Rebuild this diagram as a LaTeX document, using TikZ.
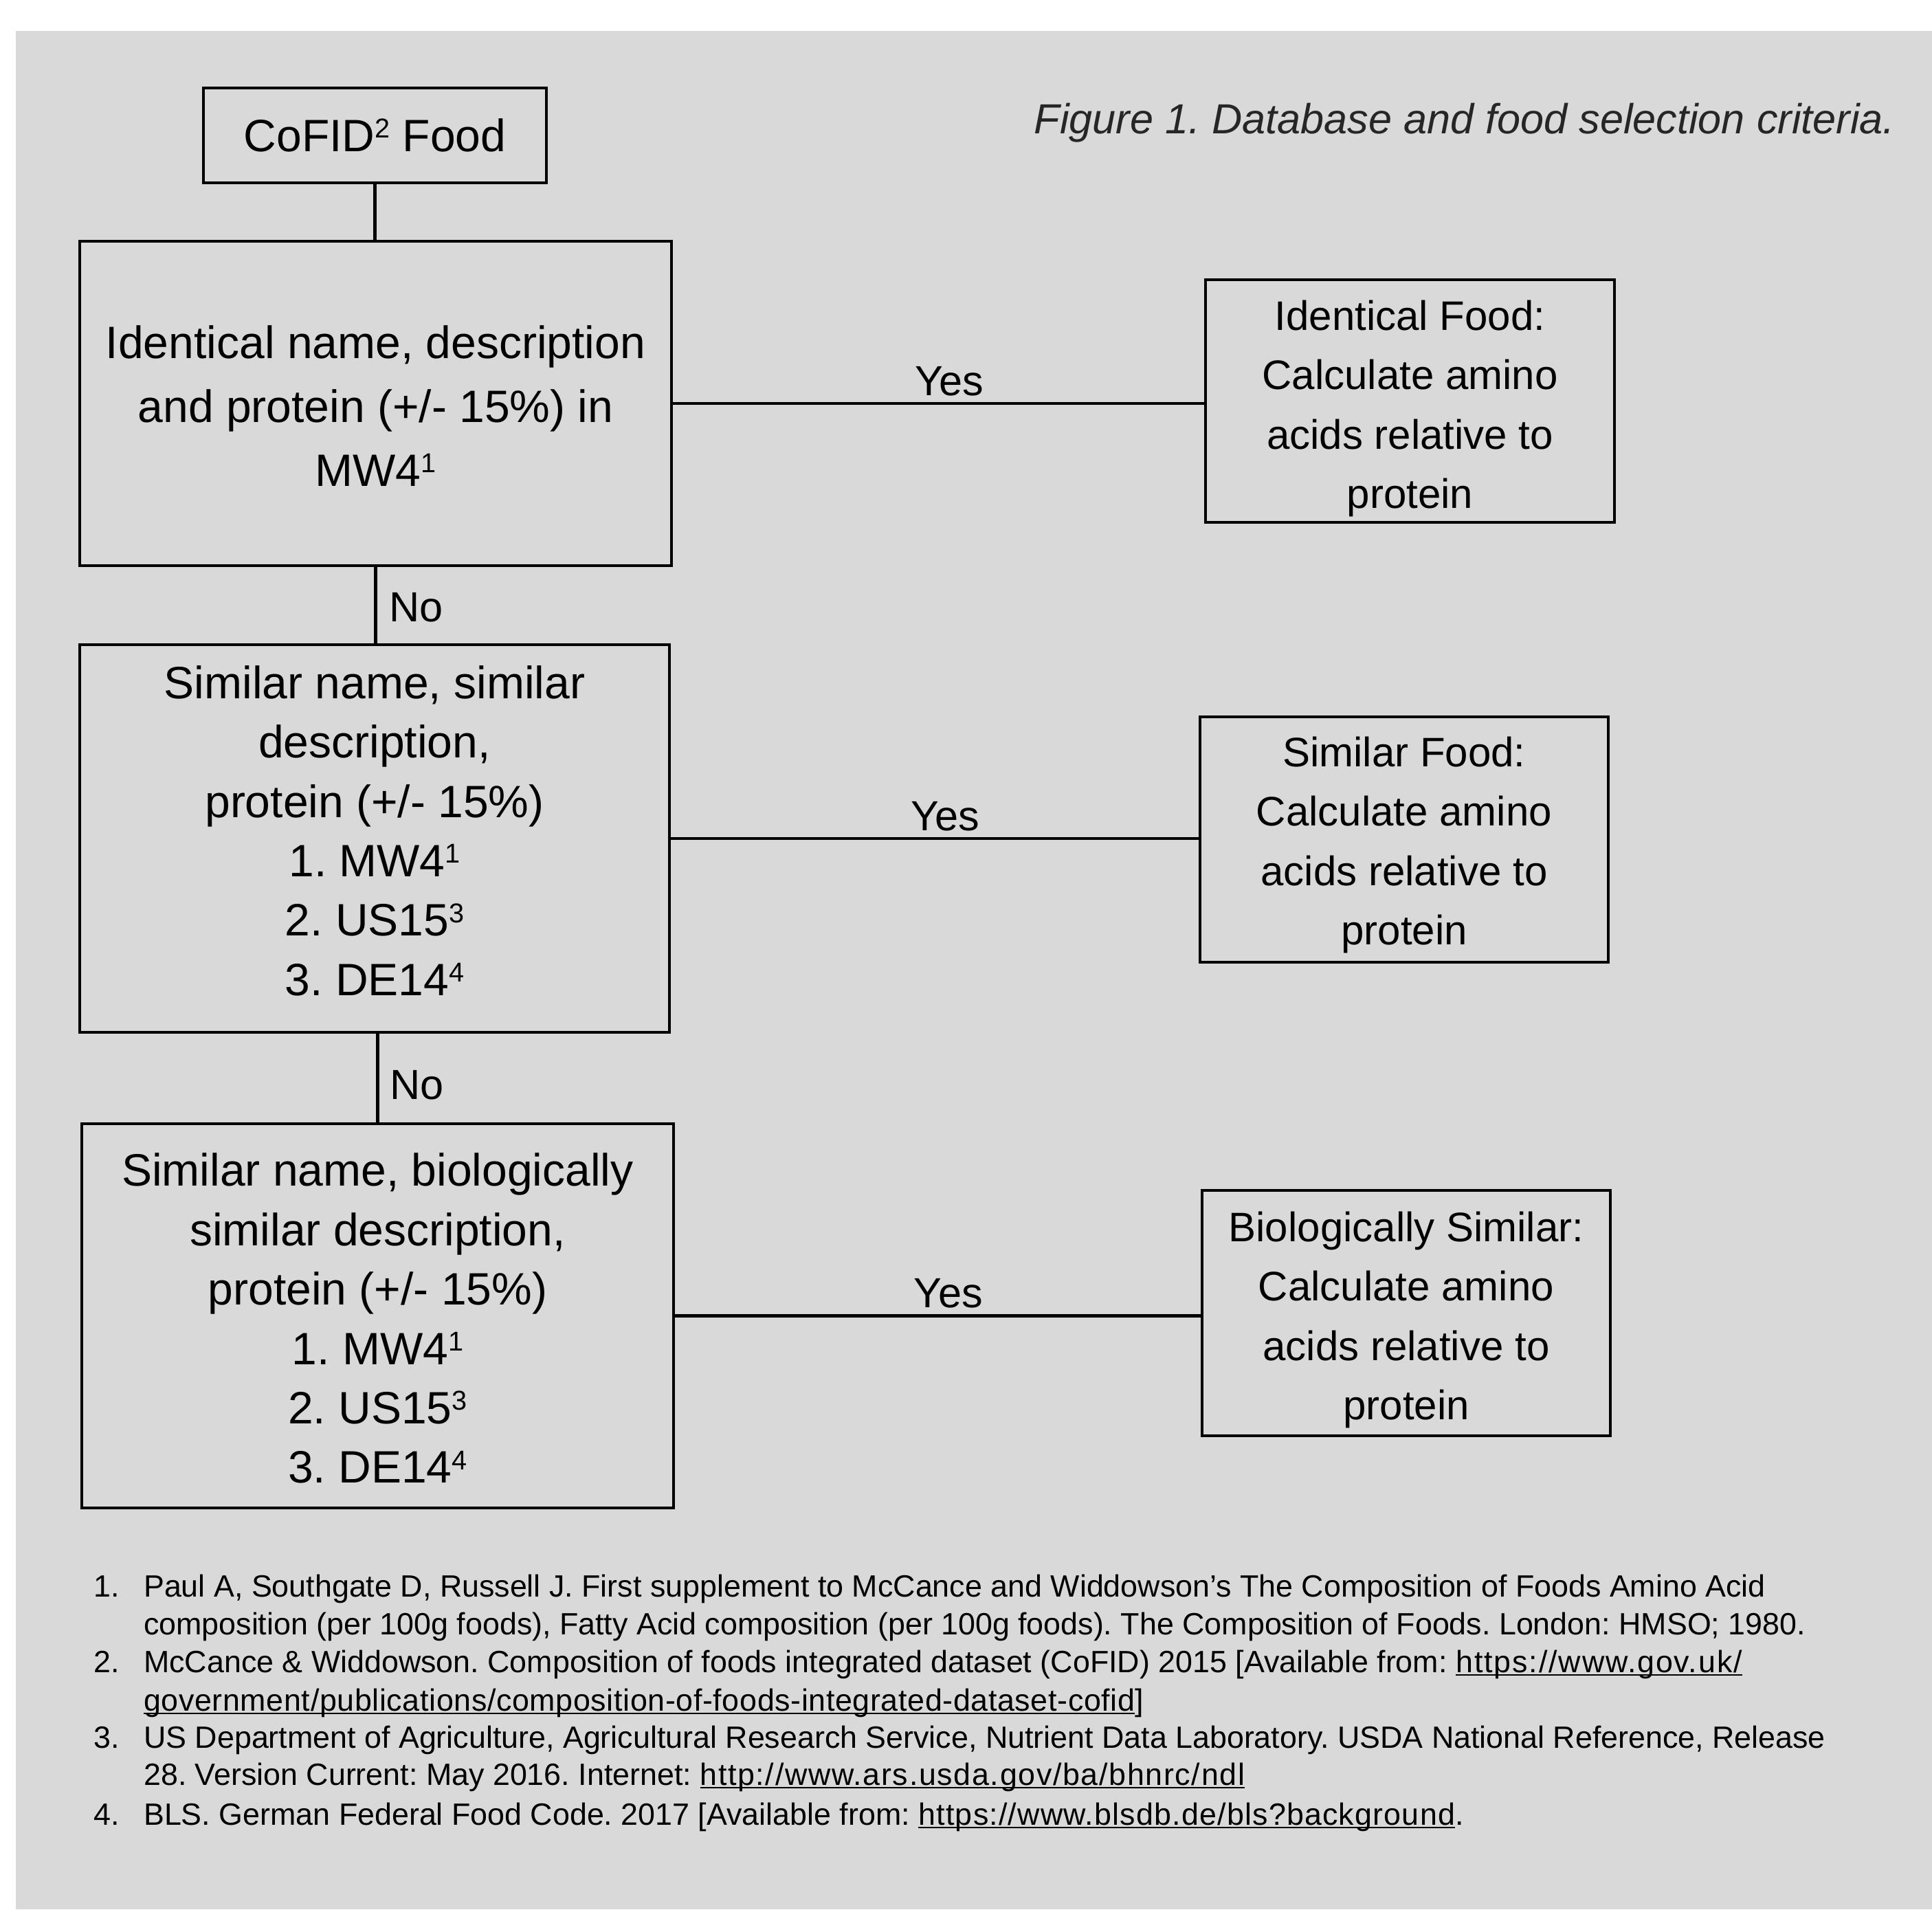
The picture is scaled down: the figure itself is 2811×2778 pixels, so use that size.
\documentclass[tikz,border=0pt]{standalone}
\usepackage{fontspec}
\setmainfont{Liberation Sans}
\frenchspacing
\definecolor{panelgray}{HTML}{D9D9D9}
\newsavebox{\linkbox}
\newcommand{\linkul}[2][0]{\sbox{\linkbox}{\addfontfeature{LetterSpace=#1}#2}\rlap{\rule[-0.11em]{\wd\linkbox}{0.055em}}\usebox{\linkbox}}
\newcommand{\supnum}[1]{\raisebox{0.3em}{\scalebox{0.6}{#1}}}
\newcommand{\topstrut}[1]{\rule{0pt}{#1}}
\newcommand{\botstrut}[1]{\rule[-#1]{0pt}{#1}}
\begin{document}
\begin{tikzpicture}[x=0.25pt, y=-0.25pt, line width=1.1pt]
        \tikzset{
          flowbox/.style={draw, inner sep=0pt, align=center},
          wh/.style 2 args={minimum width=#1*0.25pt, minimum height=#2*0.25pt},
          bigtext/.style={font=\fontsize{16.5}{23.3}\selectfont},
          listtext/.style={font=\fontsize{16.5}{21.6}\selectfont},
          resulttext/.style={font=\fontsize{15}{21.6}\selectfont},
          answer/.style={font=\fontsize{15.3}{18}\selectfont, inner sep=0pt},
          refline/.style={anchor=base west, inner sep=0pt, font=\fontsize{11.2}{13}\selectfont}
        }
        \useasboundingbox (0,0) rectangle (2811,2778);
        \fill[panelgray] (23,45) rectangle (2811,2778);
        \node[anchor=base east, inner sep=0pt, text=black!85, font=\fontsize{15.3}{18}\selectfont\itshape] (caption) at (2759,194) {Figure 1. Database and food selection criteria.};
        % left column
        \node[flowbox, wh={499}{138}, bigtext] (cofid) at (545.5,197) {CoFID\supnum{2} Food};
        \node[flowbox, wh={861}{472}, bigtext] (ident) at (546.5,587) {\topstrut{13.6pt}Identical name, description\\and protein (+/- 15\%) in\\MW4\supnum{1}};
        \node[flowbox, wh={858}{564}, listtext] (simil) at (545,1220) {Similar name, similar\\description,\\protein (+/- 15\%)\\1. MW4\supnum{1}\\2. US15\supnum{3}\\3. DE14\supnum{4}\botstrut{5.8pt}};
        \node[flowbox, wh={861}{559}, listtext] (biosim) at (549.5,1914.5) {\topstrut{13.8pt}Similar name, biologically\\similar description,\\protein (+/- 15\%)\\1. MW4\supnum{1}\\2. US15\supnum{3}\\3. DE14\supnum{4}};
        % right column
        \node[flowbox, wh={595}{353}, resulttext] (identfood) at (2051.5,583.5) {\topstrut{16.3pt}Identical Food:\\Calculate amino\\acids relative to\\protein};
        \node[flowbox, wh={594}{357}, resulttext] (simfood) at (2043,1221.5) {\topstrut{14.9pt}Similar Food:\\Calculate amino\\acids relative to\\protein};
        \node[flowbox, wh={594}{357}, resulttext] (biofood) at (2046,1910.5) {\topstrut{15.9pt}Biologically Similar:\\Calculate amino\\acids relative to\\protein};
        \draw (cofid.south) -- (cofid.south |- ident.north);
        \draw (ident.south) -- node[answer, anchor=west, pos=0.53, xshift=4.5pt] {No} (ident.south |- simil.north);
        \draw (simil.south -| biosim.north) -- node[answer, anchor=west, pos=0.58, xshift=4pt] {No} (biosim.north);
        \draw (ident.east) -- node[answer, anchor=base, pos=0.52, yshift=3pt] {Yes} (ident.east -| identfood.west);
        \draw (simil.east) -- node[answer, anchor=base, pos=0.52, yshift=3pt] {Yes} (simil.east -| simfood.west);
        \draw (biosim.east) -- node[answer, anchor=base, pos=0.52, yshift=3pt] {Yes} (biosim.east -| biofood.west);
        % references
        \node[refline] (num1) at (134,2323) {1.};
        \node[refline] (ref1a) at (207,2323) {Paul A, Southgate D, Russell J. First supplement to McCance and Widdowson's The Composition of Foods Amino Acid};
        \node[refline] (ref1b) at (207,2378) {composition (per 100g foods), Fatty Acid composition (per 100g foods). The Composition of Foods. London: HMSO; 1980.};
        \node[refline] (num2) at (134,2433) {2.};
        \node[refline] (ref2a) at (207,2433) {McCance \& Widdowson. Composition of foods integrated dataset (CoFID) 2015 [Available from: \linkul[4.2]{https://www.gov.uk/}};
        \node[refline] (ref2b) at (207,2489) {\linkul[1.4]{government/publications/composition-of-foods-integrated-dataset-cofid}]};
        \node[refline] (num3) at (134,2543) {3.};
        \node[refline] (ref3a) at (207,2543) {US Department of Agriculture, Agricultural Research Service, Nutrient Data Laboratory. USDA National Reference, Release};
        \node[refline] (ref3b) at (207,2597) {28. Version Current: May 2016. Internet: \linkul[3.7]{http://www.ars.usda.gov/ba/bhnrc/ndl}};
        \node[refline] (num4) at (134,2655) {4.};
        \node[refline] (ref4a) at (207,2655) {BLS. German Federal Food Code. 2017 [Available from: \linkul[2.7]{https://www.blsdb.de/bls?background}.};
    \end{tikzpicture}
\end{document}
